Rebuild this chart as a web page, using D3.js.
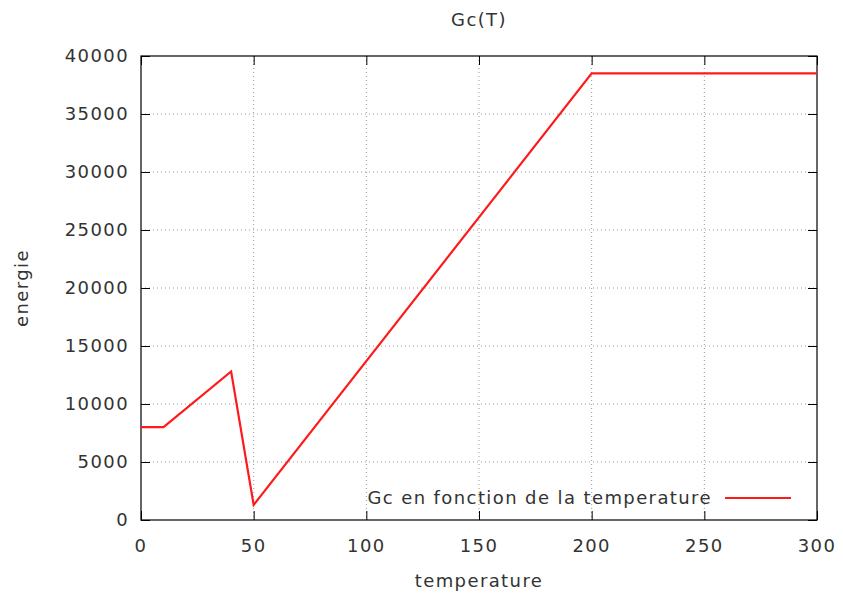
<!DOCTYPE html>
<html>
<head>
<meta charset="utf-8">
<script src="https://cdn.jsdelivr.net/npm/d3@7"></script>
<style>
  body { margin: 0; background: #fff; }
  text { font-family: "DejaVu Sans", sans-serif; fill: #333; font-size: 18px; letter-spacing: 1.4px; }
</style>
</head>
<body>
<div id="chart"></div>
<script>
// data
var temperature = [0, 10, 40, 50, 200, 300]
var energie = [8000, 8000, 12800, 1300, 38500, 38500]
var xTicks = [0, 50, 100, 150, 200, 250, 300]
var yTicks = [0, 5000, 10000, 15000, 20000, 25000, 30000, 35000, 40000]

var W = 843, H = 595
var margin = { top: 56, right: 26, bottom: 75, left: 141 }
var width = W - margin.left - margin.right,
    height = H - margin.top - margin.bottom

var svg = d3.select("#chart").append("svg")
    .attr("width", W)
    .attr("height", H)

var g = svg.append("g")
    .attr("transform", "translate(" + margin.left + "," + margin.top + ")")

var x = d3.scaleLinear().domain([0, 300]).range([0, width])
var y = d3.scaleLinear().domain([0, 40000]).range([height, 0])

// dotted grid
g.selectAll(".gx").data(xTicks.slice(1, -1)).enter().append("line")
  .attr("x1", x).attr("x2", x).attr("y1", 0).attr("y2", height)
  .attr("stroke", "#999").attr("stroke-width", 1).attr("stroke-dasharray", "1,3")
g.selectAll(".gy").data(yTicks.slice(1, -1)).enter().append("line")
  .attr("y1", y).attr("y2", y).attr("x1", 0).attr("x2", width)
  .attr("stroke", "#999").attr("stroke-width", 1).attr("stroke-dasharray", "1,3")

// axes, ticks pointing inward, mirrored on top/right
var tk = 9
g.append("g").attr("transform", "translate(0," + height + ")")
  .call(d3.axisTop(x).tickValues(xTicks).tickSize(tk).tickFormat(""))
g.append("g")
  .call(d3.axisBottom(x).tickValues(xTicks).tickSize(tk).tickFormat(""))
g.append("g")
  .call(d3.axisRight(y).tickValues(yTicks).tickSize(tk).tickFormat(""))
g.append("g").attr("transform", "translate(" + width + ",0)")
  .call(d3.axisLeft(y).tickValues(yTicks).tickSize(tk).tickFormat(""))
g.selectAll(".domain").remove()
g.selectAll(".tick line").attr("stroke", "#000").attr("stroke-width", 1)

g.append("rect").attr("width", width).attr("height", height)
  .attr("fill", "none").attr("stroke", "#000").attr("stroke-width", 1.2)

// tick labels
g.selectAll(".xl").data(xTicks).enter().append("text")
  .attr("x", x).attr("y", height + 32)
  .attr("text-anchor", "middle")
  .text(function (d) { return d })
g.selectAll(".yl").data(yTicks).enter().append("text")
  .attr("x", -12).attr("y", function (d) { return y(d) + 6 })
  .attr("text-anchor", "end")
  .text(function (d) { return d })

// the curve
var line = d3.line()
  .x(function (d, i) { return x(temperature[i]) })
  .y(function (d) { return y(d) })
g.append("path").datum(energie)
  .attr("d", line)
  .attr("fill", "none").attr("stroke", "#ff1a1a").attr("stroke-width", 2.2)

// legend
g.append("text").attr("x", 571).attr("y", height - 16)
  .attr("text-anchor", "end")
  .text("Gc en fonction de la temperature")
g.append("line").attr("x1", 584).attr("x2", 650)
  .attr("y1", height - 22).attr("y2", height - 22)
  .attr("stroke", "#ff1a1a").attr("stroke-width", 2.2)

// titles
svg.append("text").attr("x", margin.left + width / 2).attr("y", 26)
  .attr("text-anchor", "middle").text("Gc(T)")
svg.append("text").attr("x", margin.left + width / 2).attr("y", 587)
  .attr("text-anchor", "middle").text("temperature")
svg.append("text").attr("transform", "translate(28," + (margin.top + height / 2) + ") rotate(-90)")
  .attr("text-anchor", "middle").text("energie")
</script>
</body>
</html>
